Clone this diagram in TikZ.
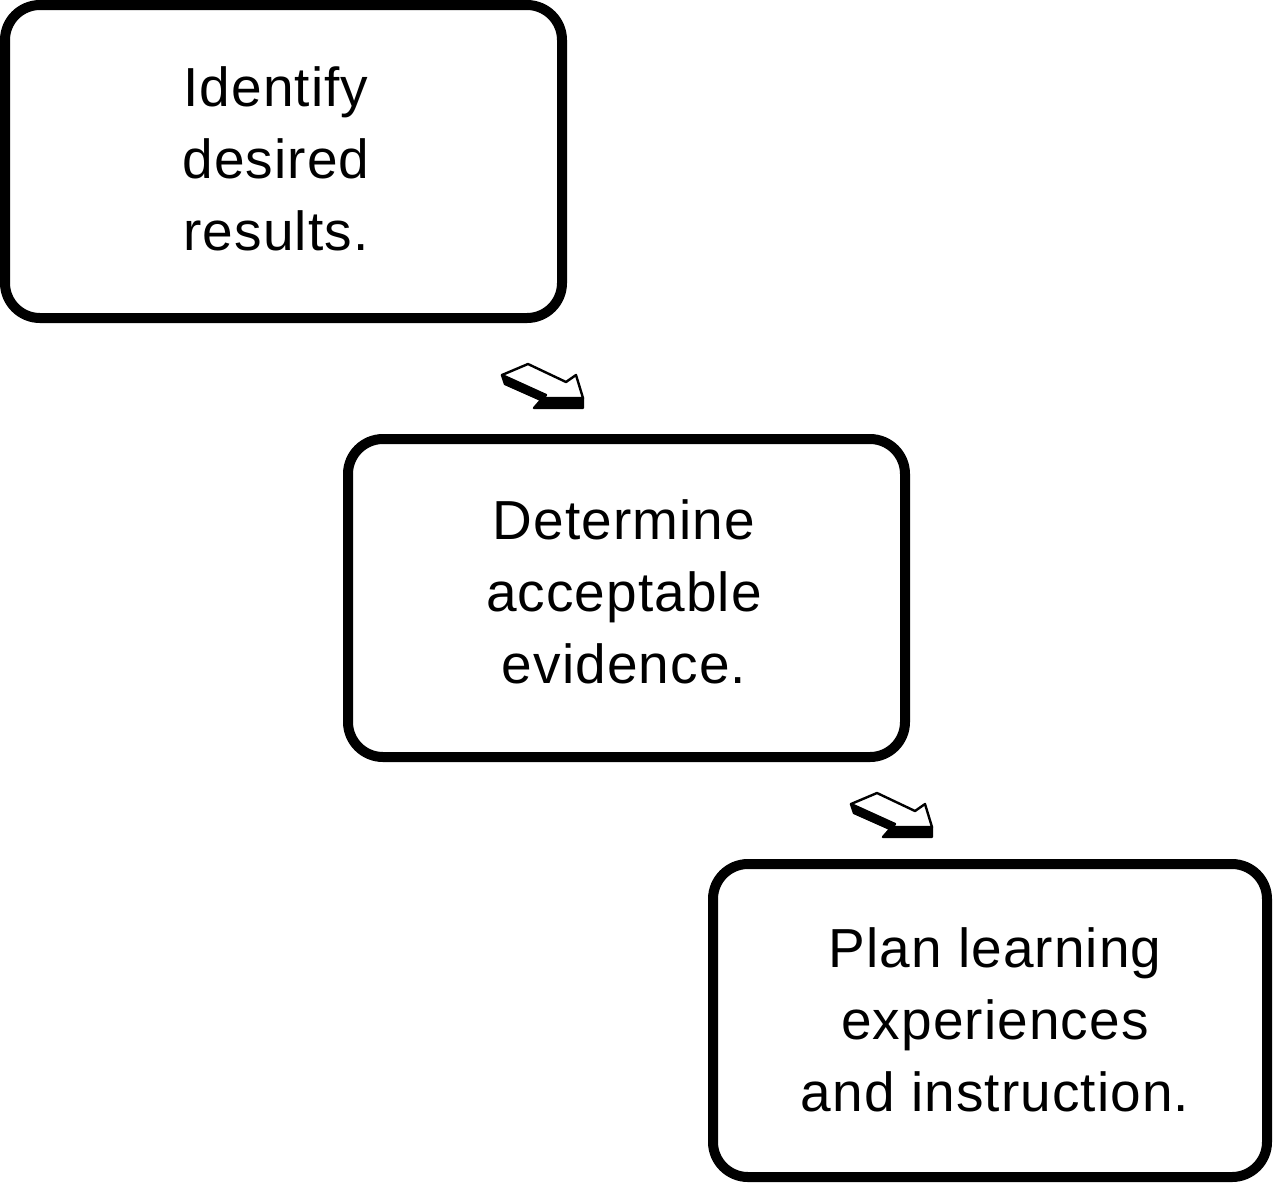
\documentclass[tikz,border=0pt]{standalone}
\usepackage{fontspec}
\setmainfont[LetterSpace=2]{Liberation Sans}
\tikzset{
  stepbox/.style={draw, line width=5pt, rounded corners=17.5pt, inner sep=0pt},
  lbl/.style={align=center, font=\fontsize{27.5pt}{36pt}\selectfont, inner sep=0pt},
  arrowface/.style={fill=white, draw=black, line width=1.2pt, line join=round},
  arrowside/.style={fill=black, draw=black, line width=1.2pt, line join=round},
  pics/blockarrow/.style={code={
    \fill[arrowside] (0,0) -- (3,9) -- (39,25) -- (32,33) -- (81,33) -- (81,23) -- (41,23) -- (44,20) -- cycle;
    \draw[arrowface] (0,0) -- (26,-11) -- (64,7) -- (74,0) -- (81,23) -- (41,23) -- (44,20) -- cycle;
  }}
}
\begin{document}
\begin{tikzpicture}[x=0.5pt,y=-0.5pt]
\useasboundingbox (0,0) rectangle (1280,1190);
\node[stepbox, minimum width=278.5pt, minimum height=156.5pt] (b1) at (283.5,161.5) {};
\node[stepbox, minimum width=278.5pt, minimum height=159pt] (b2) at (626.5,598) {};
\node[stepbox, minimum width=277pt, minimum height=156.5pt] (b3) at (990,1020.5) {};
\node[lbl] (t1) at (276,159) {Identify\\desired\\results.};
\node[lbl] (t2) at (624,591.5) {Determine\\acceptable\\evidence.};
\node[lbl] (t3) at (995,1020) {Plan learning\\experiences\\and instruction.};
\pic (a1) at (502,375) {blockarrow};
\pic (a2) at (851,804) {blockarrow};
\end{tikzpicture}
\end{document}
